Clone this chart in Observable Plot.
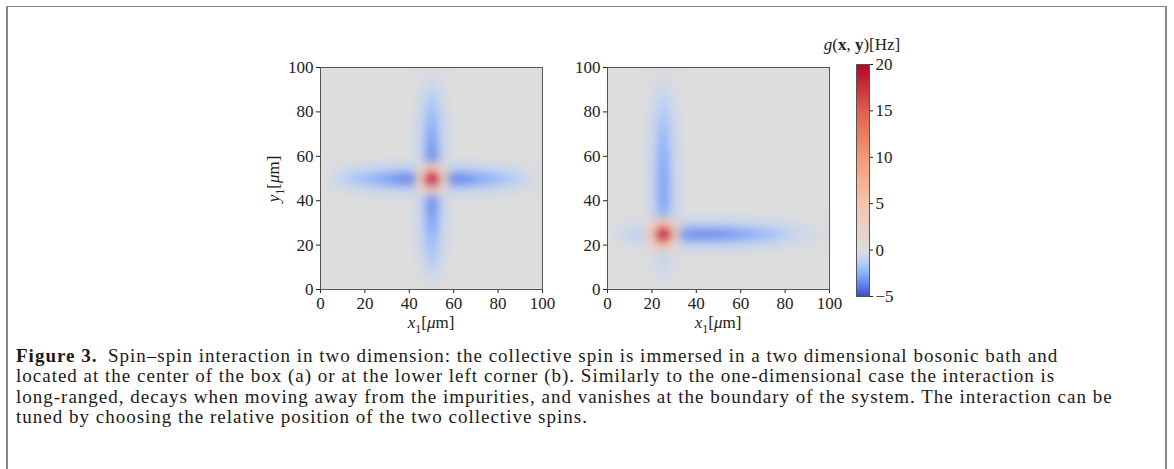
<!DOCTYPE html>
<html><head><meta charset="utf-8">
<script src="https://cdn.jsdelivr.net/npm/d3@7"></script>
<script src="https://cdn.jsdelivr.net/npm/@observablehq/plot@0.6"></script>
<style>
body{margin:0;background:#fff;width:1174px;height:469px;overflow:hidden;position:relative;font-family:"Liberation Serif",serif;color:#222;}
#box{position:absolute;left:6px;top:6px;width:1157px;height:480px;border-top:1.5px solid #888;border-left:2px solid #888;border-right:2px solid #888;}
.abs{position:absolute;}
.abs svg text{font-family:"Liberation Serif",serif !important;font-size:17px !important;fill:#222;}
.lab{position:absolute;font-size:17px;white-space:nowrap;transform:translate(-50%,-50%);}
#caption{position:absolute;left:16px;top:346px;font-size:19px;letter-spacing:1px;line-height:20.4px;white-space:nowrap;color:#1a1a1a;}
</style></head><body>
<div id="box"></div>
<div id="pa" class="abs" style="left:270px;top:57px"></div>
<div id="pb" class="abs" style="left:557px;top:57px"></div>
<div id="cb" class="abs" style="left:855px;top:56px"></div>
<div class="lab" style="left:431px;top:325px"><i>x</i><sub style="font-size:12px">1</sub>[<i>μ</i>m]</div>
<div class="lab" style="left:718px;top:325px"><i>x</i><sub style="font-size:12px">1</sub>[<i>μ</i>m]</div>
<div class="lab" style="left:276px;top:179px;transform:translate(-50%,-50%) rotate(-90deg)"><i>y</i><sub style="font-size:12px">1</sub>[<i>μ</i>m]</div>
<div class="lab" style="left:862px;top:45px"><i>g</i>(<b>x</b>, <b>y</b>)[Hz]</div>
<div id="caption"><b>Figure 3.</b>&ensp;Spin–spin interaction in two dimension: the collective spin is immersed in a two dimensional bosonic bath and<br>located at the center of the box (a) or at the lower left corner (b). Similarly to the one-dimensional case the interaction is<br>long-ranged, decays when moving away from the impurities, and vanishes at the boundary of the system. The interaction can be<br>tuned by choosing the relative position of the two collective spins.</div>
<script>
// grid nodes (µm), same for x and y
const gridNodes = [0,5,10,15,20,25,30,35,40,45,50,55,60,65,70,75,80,85,90,95,100];
const axisTicks = [0,20,40,60,80,100];
const colorTicks = [-5,0,5,10,15,20];
const colorDomain = [-5,20];

// g(x,y) [Hz], panel (a): rows from y=100 (top) down to y=0, columns x=0..100
const gridA = [
[0,0,0,0,0,0,0,0,0,0,0,0,0,0,0,0,0,0,0,0,0],
[0,0,0,0,0,0,0,0,0,-0.1,-0.4,-0.1,0,0,0,0,0,0,0,0,0],
[0,0,0,0,0,0,0,0,0,-0.25,-1.0,-0.25,0,0,0,0,0,0,0,0,0],
[0,0,0,0,0,0,0,0,0,-0.4,-1.6,-0.4,0,0,0,0,0,0,0,0,0],
[0,0,0,0,0,0,0,0,0,-0.5,-2.0,-0.5,0,0,0,0,0,0,0,0,0],
[0,0,0,0,0,0,0,0,0,-0.6,-2.5,-0.6,0,0,0,0,0,0,0,0,0],
[0,0,0,0,0,0,0,0,0,-0.7,-2.9,-0.7,0,0,0,0,0,0,0,0,0],
[0,0,0,0,0,0,0,0,0,-0.8,-3.2,-0.8,0,0,0,0,0,0,0,0,0],
[0,0,0,0,0,0,0,0,0,-0.8,-3.5,-0.8,0,0,0,0,0,0,0,0,0],
[0,-0.1,-0.25,-0.4,-0.5,-0.65,-0.75,-0.85,-0.9,1.5,3.5,1.5,-0.9,-0.85,-0.75,-0.65,-0.5,-0.4,-0.25,-0.1,0],
[0,-0.4,-1.0,-1.6,-2.1,-2.6,-3.0,-3.5,-3.7,3.5,22,3.5,-3.7,-3.5,-3.0,-2.6,-2.1,-1.6,-1.0,-0.4,0],
[0,-0.1,-0.25,-0.4,-0.5,-0.65,-0.75,-0.85,-0.9,1.5,3.5,1.5,-0.9,-0.85,-0.75,-0.65,-0.5,-0.4,-0.25,-0.1,0],
[0,0,0,0,0,0,0,0,0,-0.8,-3.5,-0.8,0,0,0,0,0,0,0,0,0],
[0,0,0,0,0,0,0,0,0,-0.8,-3.3,-0.8,0,0,0,0,0,0,0,0,0],
[0,0,0,0,0,0,0,0,0,-0.7,-2.9,-0.7,0,0,0,0,0,0,0,0,0],
[0,0,0,0,0,0,0,0,0,-0.6,-2.5,-0.6,0,0,0,0,0,0,0,0,0],
[0,0,0,0,0,0,0,0,0,-0.5,-2.0,-0.5,0,0,0,0,0,0,0,0,0],
[0,0,0,0,0,0,0,0,0,-0.4,-1.6,-0.4,0,0,0,0,0,0,0,0,0],
[0,0,0,0,0,0,0,0,0,-0.25,-1.0,-0.25,0,0,0,0,0,0,0,0,0],
[0,0,0,0,0,0,0,0,0,-0.1,-0.4,-0.1,0,0,0,0,0,0,0,0,0],
[0,0,0,0,0,0,0,0,0,0,0,0,0,0,0,0,0,0,0,0,0]
];

// panel (b): spins at the lower left (25, 25)
const gridB = [
[0,0,0,0,0,0,0,0,0,0,0,0,0,0,0,0,0,0,0,0,0],
[0,0,0,0,-0.08,-0.3,-0.08,0,0,0,0,0,0,0,0,0,0,0,0,0,0],
[0,0,0,0,-0.15,-0.6,-0.15,0,0,0,0,0,0,0,0,0,0,0,0,0,0],
[0,0,0,0,-0.28,-1.1,-0.28,0,0,0,0,0,0,0,0,0,0,0,0,0,0],
[0,0,0,0,-0.38,-1.5,-0.38,0,0,0,0,0,0,0,0,0,0,0,0,0,0],
[0,0,0,0,-0.48,-1.9,-0.48,0,0,0,0,0,0,0,0,0,0,0,0,0,0],
[0,0,0,0,-0.55,-2.2,-0.55,0,0,0,0,0,0,0,0,0,0,0,0,0,0],
[0,0,0,0,-0.62,-2.5,-0.62,0,0,0,0,0,0,0,0,0,0,0,0,0,0],
[0,0,0,0,-0.68,-2.7,-0.68,0,0,0,0,0,0,0,0,0,0,0,0,0,0],
[0,0,0,0,-0.7,-2.8,-0.7,0,0,0,0,0,0,0,0,0,0,0,0,0,0],
[0,0,0,0,-0.72,-2.9,-0.72,0,0,0,0,0,0,0,0,0,0,0,0,0,0],
[0,0,0,0,-0.72,-2.9,-0.72,0,0,0,0,0,0,0,0,0,0,0,0,0,0],
[0,0,0,0,-0.72,-2.9,-0.72,0,0,0,0,0,0,0,0,0,0,0,0,0,0],
[0,0,0,0,-0.65,-2.6,-0.65,0,0,0,0,0,0,0,0,0,0,0,0,0,0],
[0,-0.1,-0.2,-0.25,1.8,5,1.8,-0.8,-0.9,-0.9,-0.85,-0.8,-0.7,-0.65,-0.55,-0.45,-0.3,-0.2,-0.12,-0.05,0],
[0,-0.4,-0.9,-1.0,5,26,5,-3.3,-3.5,-3.5,-3.4,-3.2,-2.9,-2.6,-2.2,-1.8,-1.3,-0.8,-0.5,-0.2,0],
[0,-0.1,-0.2,-0.25,1.8,5,1.8,-0.8,-0.9,-0.9,-0.85,-0.8,-0.7,-0.65,-0.55,-0.45,-0.3,-0.2,-0.12,-0.05,0],
[0,0,0,0,-0.2,-0.8,-0.2,0,0,0,0,0,0,0,0,0,0,0,0,0,0],
[0,0,0,0,-0.15,-0.6,-0.15,0,0,0,0,0,0,0,0,0,0,0,0,0,0],
[0,0,0,0,-0.08,-0.3,-0.08,0,0,0,0,0,0,0,0,0,0,0,0,0,0],
[0,0,0,0,0,0,0,0,0,0,0,0,0,0,0,0,0,0,0,0,0]
];

const coolwarmStops = ["#3b4cc0","#6282ea","#8db0fe","#b8d0f9","#dddddd","#f5c4ad","#f49a7b","#de604d","#b40426"];
const coolwarm = d3.piecewise(d3.interpolateRgb, coolwarmStops);
const colorScale = {type: "diverging", pivot: 0, symmetric: false, clamp: true, domain: colorDomain, interpolate: coolwarm};
const font = {fontFamily: "Liberation Serif, serif", fontSize: "17px", color: "#222", background: "transparent"};
const minus = d => d < 0 ? "\u2212" + (-d) : String(d);

function panel(grid) {
  const step = gridNodes[1] - gridNodes[0];
  const n = gridNodes.length;
  const lo = gridNodes[0] - step / 2, hi = gridNodes[n - 1] + step / 2;
  const svg = Plot.plot({
    width: 292, height: 272,
    marginLeft: 50, marginRight: 20, marginTop: 10, marginBottom: 40,
    style: font,
    x: {domain: [0, 100], ticks: axisTicks, tickSize: 4, tickPadding: 3, label: null, tickFormat: d => d},
    y: {domain: [0, 100], ticks: axisTicks, tickSize: 4, tickPadding: 3, label: null, tickFormat: d => d},
    color: colorScale,
    marks: [
      Plot.raster(grid.flat(), {width: n, height: n, x1: lo, x2: hi, y1: hi, y2: lo, fill: d => d, clip: true}),
      Plot.frame({stroke: "#555", strokeWidth: 1})
    ]
  });
  d3.select(svg).selectAll("image").style("filter", "blur(3px)");
  return svg;
}

document.getElementById("pa").append(panel(gridA));
document.getElementById("pb").append(panel(gridB));

const cb = Plot.plot({
  width: 54, height: 254,
  marginLeft: 1, marginRight: 40, marginTop: 8, marginBottom: 14,
  style: font,
  x: {domain: [0, 1], axis: null},
  y: {domain: colorDomain, ticks: colorTicks, axis: "right", tickSize: 3, tickPadding: 3, label: null, tickFormat: minus},
  color: colorScale,
  marks: [
    Plot.raster({fill: (x, y) => y, x1: 0, x2: 1, y1: colorDomain[0], y2: colorDomain[1]}),
    Plot.frame({stroke: "#555", strokeWidth: 1})
  ]
});
document.getElementById("cb").append(cb);
</script>
</body></html>
